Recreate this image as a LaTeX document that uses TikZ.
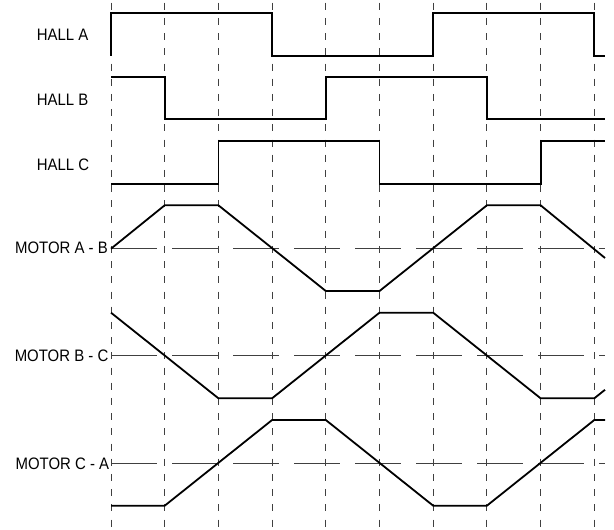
\documentclass[tikz,border=0pt]{standalone}
\usepackage{fontspec}
\setmainfont[FakeStretch=0.9]{Liberation Sans}
\usepackage{tikz}
\usetikzlibrary{positioning}

\begin{document}
\begin{tikzpicture}[x=1pt, y=-1pt]
	% Define styles
	\tikzset{
		lbl/.style={inner sep=0pt, font=\fontsize{16.6}{19}\selectfont},
		vline/.style={draw, black!75, line width=0.9pt, dash pattern=on 7pt off 8.2pt},
		hline/.style={draw, black!75, line width=0.9pt, dash pattern=on 46pt off 15pt},
		signal/.style={draw, black, line width=1.8pt, line join=miter}
	}
	\useasboundingbox (0,0) rectangle (614,530);
	
	% Grid
	\foreach \i in {0,...,9}
		\path [vline] ({111+53.7*\i},2.7) -- ({111+53.7*\i},530);
	\foreach \y in {248.7, 355.3, 463.3}
		\path [hline] (111,\y) -- (605,\y);
	
	% Nodes
	\node[lbl, anchor=base west] (hallA) at (36.7,41) {HALL A};
	\node[lbl, anchor=base west] (hallB) at (36.7,105) {HALL B};
	\node[lbl, anchor=base west] (hallC) at (36.7,170) {HALL C};
	\node[lbl, anchor=base east] (motAB) at (108,253.3) {MOTOR A - B};
	\node[lbl, anchor=base east] (motBC) at (108.5,361.3) {MOTOR B - C};
	\node[lbl, anchor=base east] (motCA) at (109.3,469.3) {MOTOR C - A};
	
	% Hall signals
	\path [signal] (111,55.7) -- (111,12.7) -- (272.1,12.7) -- (272.1,55.7) -- (433.2,55.7)
		-- (433.2,12.7) -- (594.3,12.7) -- (594.3,55.7) -- (605,55.7);
	\path [signal] (111,77.3) -- (164.7,77.3) -- (164.7,119.3) -- (325.8,119.3)
		-- (325.8,77.3) -- (486.9,77.3) -- (486.9,119.3) -- (605,119.3);
	\path [signal] (111,183.7) -- (218.4,183.7) -- (218.4,141.3) -- (379.5,141.3)
		-- (379.5,183.7) -- (540.6,183.7) -- (540.6,141.3) -- (605,141.3);
	
	% Motor voltages
	\path [signal] (111,248.7) -- (164.7,205.3) -- (218.4,205.3) -- (325.8,291) -- (379.5,291)
		-- (486.9,205.3) -- (540.6,205.3) -- (605,258);
	\path [signal] (111,312.7) -- (218.4,398.3) -- (272.1,398.3) -- (379.5,312.7) -- (433.2,312.7)
		-- (540.6,398.3) -- (594.3,398.3) -- (605,389.8);
	\path [signal] (111,505.7) -- (164.7,505.7) -- (272.1,420) -- (325.8,420) -- (433.2,505.7)
		-- (486.9,505.7) -- (594.3,420) -- (605,420);
\end{tikzpicture}
\end{document}
